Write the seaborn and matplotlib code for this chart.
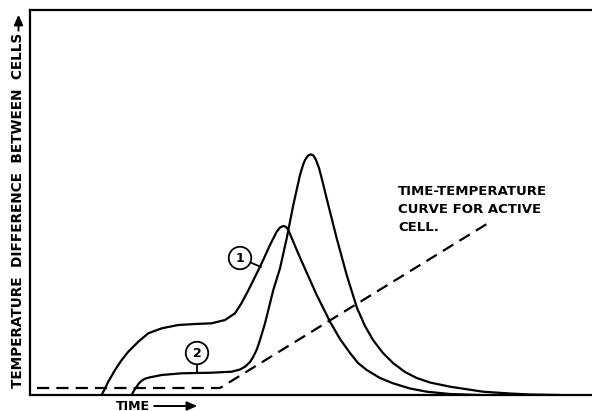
import numpy as np
import pandas as pd
import seaborn as sns
import matplotlib
matplotlib.use("Agg")
import matplotlib.pyplot as plt
from matplotlib.text import OffsetFrom

# ---- data (arbitrary units) ----
curve1_time = [71.7, 78.3, 85, 91.7, 98.3, 108.3, 118.3, 131.7, 148.3, 165, 181.7,
               195, 205, 211, 218, 223, 230, 235, 240, 246.7, 250, 253.3, 256,
               258.3, 263.3, 268, 273.3, 280, 286.7, 296.7, 300, 310, 320, 328,
               336.7, 350, 363, 380, 396.7, 420, 450]
curve1_dT = [0, 13.3, 25, 35, 43.3, 53.3, 61.7, 66.7, 70, 71, 71.7,
             75, 81.7, 91, 104, 114, 128.3, 139, 150, 163.3, 167.5, 169, 168.2,
             165, 153.3, 142, 130, 115, 100, 80, 73.3, 56, 42, 32,
             25, 17, 11.7, 6.5, 3.3, 1, 0]

curve2_time = [101.7, 104, 106.7, 109, 111.7, 115, 120, 131.7, 151.7, 181.7, 201.7,
               210, 215, 220, 223.3, 227, 230, 235, 240, 243.3, 250, 256.7, 263.3,
               270, 273, 275, 278, 280.7, 283.5, 286, 289, 291.7, 298.3, 306.7,
               316.7, 327, 335, 343, 353, 363, 375, 386.7, 400, 420, 453, 480,
               500, 530]
curve2_dT = [0, 4.5, 8.3, 11.7, 14.3, 16.3, 17.7, 20, 21.7, 22.3, 23.3,
             25.5, 28.3, 33, 38.3, 46, 55, 71.7, 91.7, 105, 126.7, 156.7, 190,
             220, 230, 235, 239.3, 240.7, 239.5, 235, 227, 216.7, 190, 156.7,
             120, 87, 69, 55, 42, 32, 23, 17, 12.5, 8.3, 3.3, 1.5,
             0.5, 0]

active_time = [7, 190, 460]
active_temp = [7, 7, 173]

curve_labels = ["1", "2"]

df = pd.concat([
    pd.DataFrame({"time": curve1_time, "dT": curve1_dT, "curve": curve_labels[0]}),
    pd.DataFrame({"time": curve2_time, "dT": curve2_dT, "curve": curve_labels[1]}),
], ignore_index=True)
df_active = pd.DataFrame({"time": active_time, "temp": active_temp})

sns.set_theme(style="white")
plt.rcParams["font.family"] = ["DejaVu Sans"]
plt.rcParams["text.color"] = "black"

fig = plt.figure(figsize=(5.92, 4.11), dpi=100)
ax = fig.add_axes([30 / 592, 16 / 411, 562 / 592, 385 / 411])

sns.lineplot(data=df, x="time", y="dT", hue="curve", units="curve",
             estimator=None, sort=False, palette=["black", "black"],
             linewidth=1.6, legend=False, ax=ax)
sns.lineplot(data=df_active, x="time", y="temp", estimator=None, sort=False,
             color="black", linewidth=1.6, dashes=False, ax=ax)
ax.lines[-1].set_dashes((5.5, 3.2))
for ln in ax.lines:
    ln.set_solid_joinstyle("round")

ax.set_xlim(0, 562)
ax.set_ylim(0, 385)
ax.set_xticks([])
ax.set_yticks([])
ax.set_xlabel("")
ax.set_ylabel("")
for s in ["left", "bottom", "top"]:
    ax.spines[s].set_visible(True)
    ax.spines[s].set_color("black")
    ax.spines[s].set_linewidth(1.6)
ax.spines["right"].set_visible(False)

# circled curve numbers with leader lines
txtkw = dict(fontsize=9, fontweight="bold", ha="center", va="center", color="black",
             bbox=dict(boxstyle="circle,pad=0.38", fc="white", ec="black", lw=1.3))
ax.annotate(curve_labels[0], xy=(231, 128), xytext=(210, 137), **txtkw,
            arrowprops=dict(arrowstyle="-", color="black", lw=1.3,
                            shrinkA=0, shrinkB=0))
ax.annotate(curve_labels[1], xy=(167, 22), xytext=(167, 42), **txtkw,
            arrowprops=dict(arrowstyle="-", color="black", lw=1.3,
                            shrinkA=0, shrinkB=0))

ax.text(368, 210, "TIME-TEMPERATURE\nCURVE FOR ACTIVE\nCELL.",
        fontsize=9.5, fontweight="bold", ha="left", va="top", linespacing=1.5,
        color="black")

# axis titles with arrows
ylab = fig.text(18.5 / 592, 1 - 388 / 411, "TEMPERATURE  DIFFERENCE  BETWEEN  CELLS",
                rotation=90, fontsize=9.8, fontweight="bold",
                ha="center", va="bottom", color="black")
ax.annotate("", xy=(0, 13), xycoords=OffsetFrom(ylab, (0.5, 1.0), unit="points"),
            xytext=(0, 1.5), textcoords=OffsetFrom(ylab, (0.5, 1.0), unit="points"),
            arrowprops=dict(arrowstyle="-|>,head_length=0.5,head_width=0.22",
                            color="black", lw=1.4, shrinkA=0, shrinkB=0),
            annotation_clip=False)

xlab = fig.text(116 / 592, 1 - 406 / 411, "TIME", fontsize=9, fontweight="bold",
                ha="left", va="center", color="black")
ax.annotate("", xy=(34, 0), xycoords=OffsetFrom(xlab, (1.0, 0.5), unit="points"),
            xytext=(3, 0), textcoords=OffsetFrom(xlab, (1.0, 0.5), unit="points"),
            arrowprops=dict(arrowstyle="-|>,head_length=0.5,head_width=0.22",
                            color="black", lw=1.4, shrinkA=0, shrinkB=0),
            annotation_clip=False)

fig.savefig("out.png", dpi=100)
